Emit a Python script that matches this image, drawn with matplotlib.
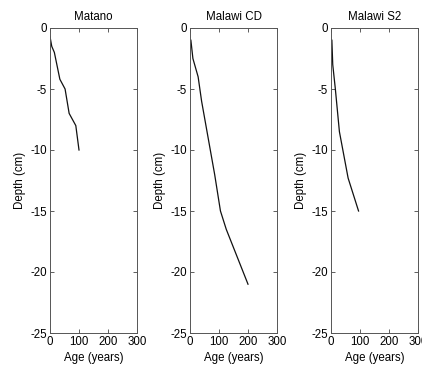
import matplotlib
matplotlib.use("Agg")
import matplotlib.pyplot as plt

# Age-depth data
titles = ["Matano", "Malawi CD", "Malawi S2"]

matano_age = [0, 6, 15, 34, 52, 66, 89, 100]
matano_depth = [-0.7, -1.5, -2, -4.2, -5, -7, -8, -10]

cd_age = [3, 10, 28, 40, 70, 85, 105, 125, 200]
cd_depth = [-1, -2.5, -4, -6, -10, -12, -15, -16.5, -21]

s2_age = [3, 6, 15, 29, 59, 95]
s2_depth = [-1, -3, -5, -8.5, -12.3, -15]

ages = [matano_age, cd_age, s2_age]
depths = [matano_depth, cd_depth, s2_depth]

xticks = [0, 100, 200, 300]
yticks = [0, -5, -10, -15, -20, -25]

plt.rcParams['font.family'] = ['Liberation Sans', 'DejaVu Sans']
plt.rcParams['axes.unicode_minus'] = False

fs = 8.3
fig = plt.figure(figsize=(4.22, 3.68), dpi=100)
lefts = [50, 190, 331]
for i in range(3):
    ax = fig.add_axes([lefts[i] / 422, 35 / 368, 87 / 422, 305 / 368])
    ax.plot(ages[i], depths[i], color='#111111', linewidth=0.9)
    ax.set_xlim(0, 300)
    ax.set_ylim(-25, 0)
    ax.set_xticks(xticks)
    ax.set_yticks(yticks)
    ax.tick_params(direction='in', length=3, width=0.6, labelsize=fs,
                   top=True, right=True, pad=2, color='#444444')
    for s in ax.spines.values():
        s.set_linewidth(0.7)
        s.set_color('#555555')
    ax.set_title(titles[i], fontsize=fs, pad=6)
    ax.set_xlabel("Age (years)", fontsize=fs, labelpad=3)
    ax.set_ylabel("Depth (cm)", fontsize=fs, labelpad=3)

fig.savefig("out.png", dpi=100)
